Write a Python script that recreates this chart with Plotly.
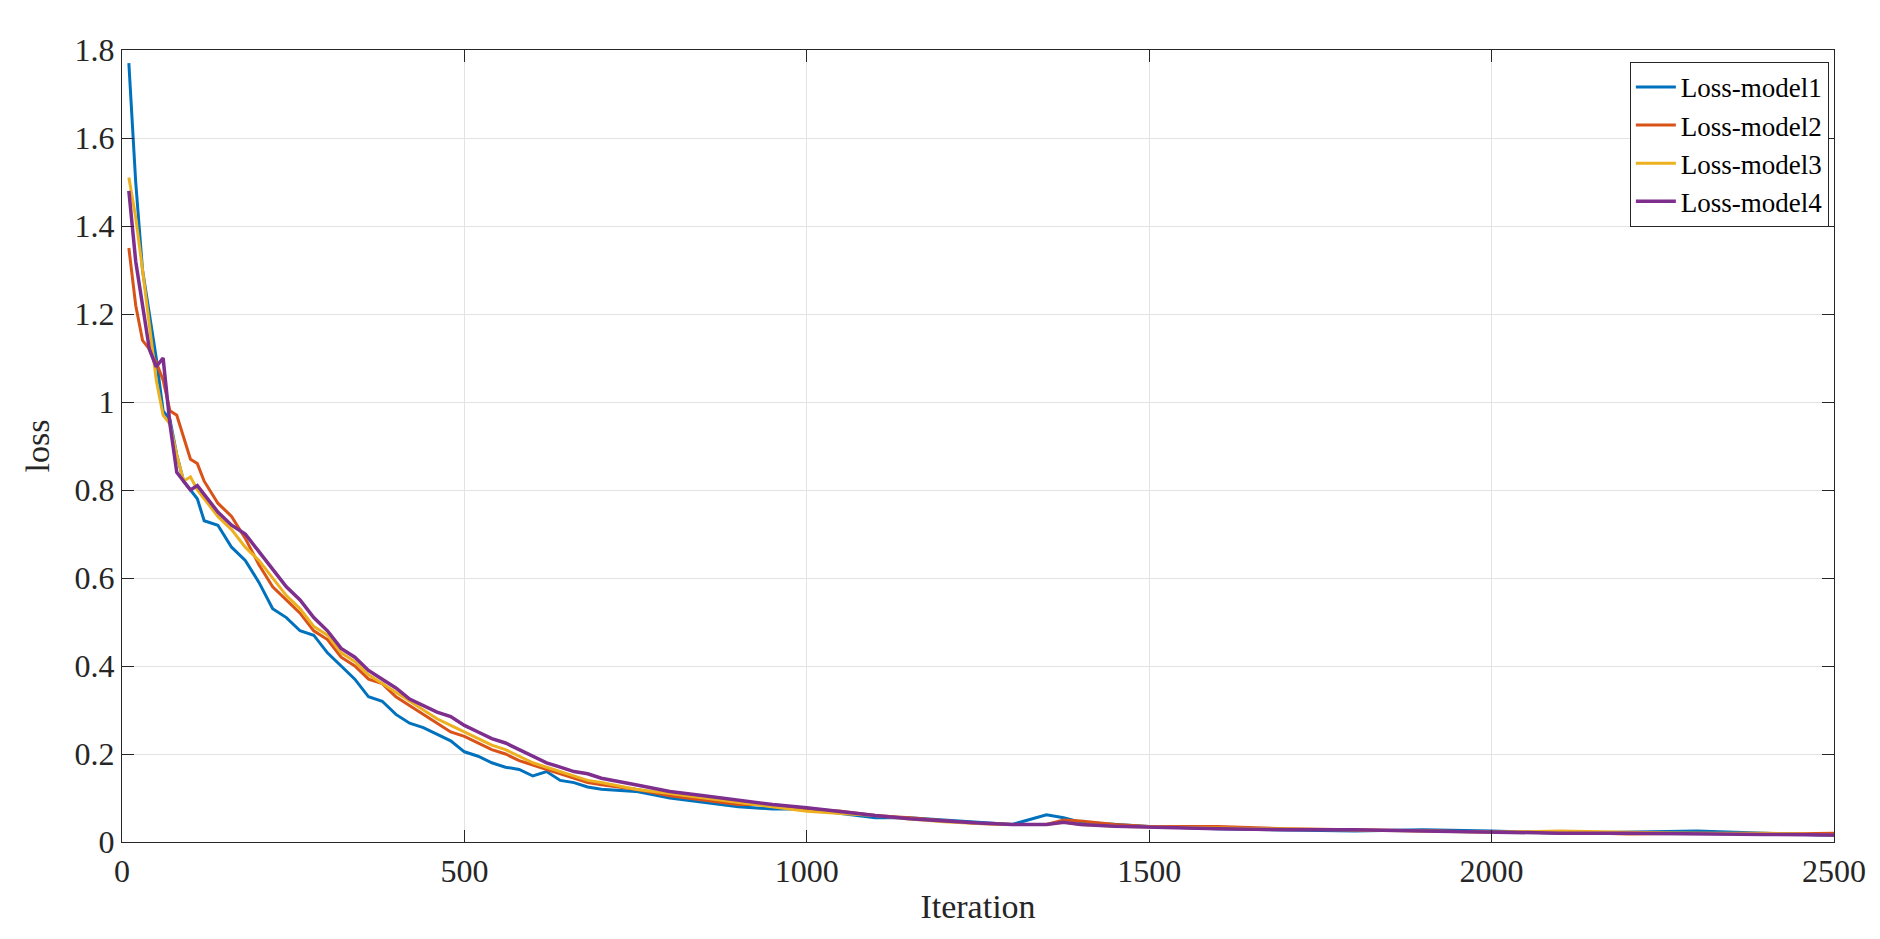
import plotly.graph_objects as go

iters = [10,20,30,40,50,60,70,80,90,100,110,120,
         140,160,180,200,220,240,260,280,300,320,340,360,380,400,420,440,460,480,500,
         520,540,560,580,600,620,640,660,680,700,
         750,800,850,900,950,1000,1050,1100,1150,1200,1250,1300,1350,1375,
         1400,1450,1500,1600,1700,1800,1900,2000,2100,2200,2300,2400,2500]

loss_model1 = [1.77,1.50,1.30,1.20,1.10,0.98,0.96,0.88,0.82,0.80,0.78,0.73,
               0.72,0.67,0.64,0.59,0.53,0.51,0.48,0.47,0.43,0.40,0.37,0.33,0.32,0.29,0.27,0.26,0.245,0.23,0.205,
               0.195,0.18,0.17,0.165,0.15,0.16,0.14,0.135,0.125,0.12,
               0.115,0.10,0.09,0.08,0.075,0.075,0.065,0.055,0.055,0.05,0.045,0.04,0.062,0.055,
               0.045,0.04,0.035,0.03,0.028,0.025,0.028,0.025,0.02,0.022,0.025,0.02,0.015]
loss_model2 = [1.35,1.22,1.14,1.12,1.09,1.05,0.98,0.97,0.92,0.87,0.86,0.82,
               0.77,0.74,0.69,0.63,0.58,0.55,0.52,0.48,0.46,0.42,0.40,0.37,0.36,0.33,0.31,0.29,0.27,0.25,0.24,
               0.225,0.21,0.20,0.185,0.175,0.165,0.155,0.145,0.135,0.13,
               0.12,0.105,0.095,0.085,0.085,0.075,0.07,0.06,0.055,0.048,0.042,0.04,0.04,0.05,
               0.048,0.04,0.035,0.035,0.03,0.028,0.025,0.023,0.022,0.018,0.02,0.018,0.02]
loss_model3 = [1.51,1.42,1.30,1.18,1.05,0.97,0.95,0.88,0.82,0.83,0.80,0.78,
               0.74,0.71,0.67,0.64,0.60,0.56,0.53,0.49,0.47,0.43,0.41,0.38,0.36,0.34,0.32,0.30,0.28,0.265,0.25,
               0.235,0.22,0.21,0.195,0.18,0.17,0.16,0.15,0.14,0.135,
               0.12,0.11,0.10,0.09,0.08,0.07,0.065,0.06,0.052,0.046,0.042,0.04,0.04,0.045,
               0.04,0.036,0.034,0.032,0.03,0.027,0.025,0.022,0.025,0.022,0.02,0.02,0.016]
loss_model4 = [1.48,1.32,1.22,1.12,1.08,1.10,0.95,0.84,0.82,0.80,0.81,0.79,
               0.75,0.72,0.70,0.66,0.62,0.58,0.55,0.51,0.48,0.44,0.42,0.39,0.37,0.35,0.325,0.31,0.295,0.285,0.265,
               0.25,0.235,0.225,0.21,0.195,0.18,0.17,0.16,0.155,0.145,
               0.13,0.115,0.105,0.095,0.085,0.078,0.068,0.06,0.053,0.048,0.043,0.04,0.04,0.045,
               0.04,0.036,0.034,0.03,0.028,0.028,0.025,0.022,0.02,0.02,0.018,0.017,0.016]

names = ["Loss-model1", "Loss-model2", "Loss-model3", "Loss-model4"]
colors = ["#0072BD", "#D95319", "#EDB120", "#7E2F8E"]
widths = [3, 3, 3, 3.5]

fig = go.Figure()
for n, y, c, w in zip(names, [loss_model1, loss_model2, loss_model3, loss_model4], colors, widths):
    fig.add_trace(go.Scatter(x=iters, y=y, mode="lines", name=n, line=dict(color=c, width=w)))

font = "Liberation Serif, Times New Roman, serif"
axis_common = dict(showline=True, linecolor="#262626", linewidth=1.2, mirror="ticks",
                   ticks="inside", ticklen=12, tickcolor="#262626", automargin=False,
                   showgrid=True, gridcolor="#E3E3E3", zeroline=False,
                   tickfont=dict(family=font, size=32, color="#262626"))
fig.update_layout(
    width=1880, height=939,
    margin=dict(l=114, r=54, t=42, b=105),
    paper_bgcolor="white", plot_bgcolor="white",
    font=dict(family=font, color="#262626"),
    xaxis=dict(range=[0, 2500], dtick=500, **axis_common,
               title=dict(text="Iteration", font=dict(family=font, size=34), standoff=6)),
    yaxis=dict(range=[0, 1.8], dtick=0.2, **axis_common,
               title=dict(text="loss", font=dict(family=font, size=34), standoff=14)),
    legend=dict(x=0.997, y=0.985, xanchor="right", yanchor="top",
                bgcolor="white", bordercolor="#262626", borderwidth=1,
                font=dict(family=font, size=27, color="black"), tracegroupgap=0,
                itemwidth=40),
    showlegend=True,
)
fig.write_html("out.html")
